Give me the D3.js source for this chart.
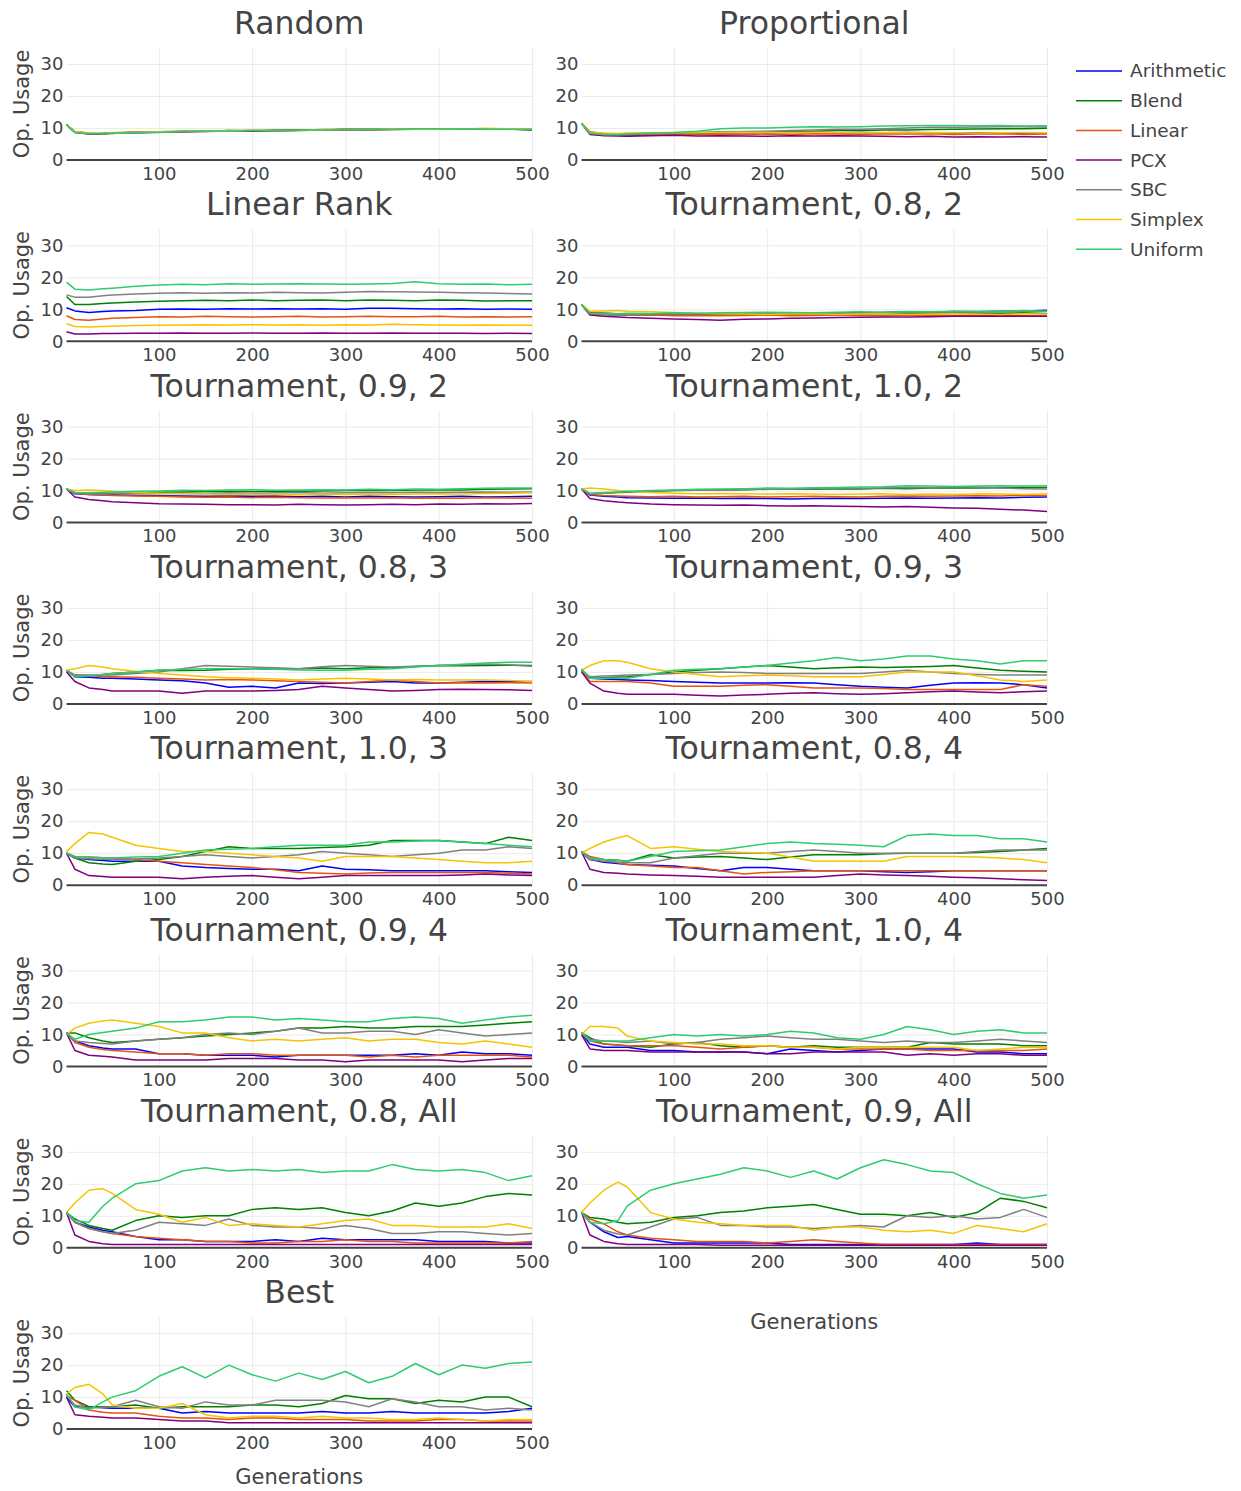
<!DOCTYPE html>
<html><head><meta charset="utf-8">
<script src="https://cdn.jsdelivr.net/npm/d3@7"></script>
<style>body{margin:0;background:#fff}</style>
</head><body>
<script>
const gens = [1,10,25,40,50,75,100,125,150,175,200,225,250,275,300,325,350,375,400,425,450,475,500];
const seriesNames = ["Arithmetic","Blend","Linear","PCX","SBC","Simplex","Uniform"];
const seriesColors = ["#0000ff","#008000","#e6550d","#800080","#808080","#f5c400","#2ecc71"];
const panelTitles = ["Random","Proportional","Linear Rank","Tournament, 0.8, 2","Tournament, 0.9, 2","Tournament, 1.0, 2",
  "Tournament, 0.8, 3","Tournament, 0.9, 3","Tournament, 1.0, 3","Tournament, 0.8, 4","Tournament, 0.9, 4","Tournament, 1.0, 4",
  "Tournament, 0.8, All","Tournament, 0.9, All","Best"];
const xTicks = [100,200,300,400,500];
const yTicks = [0,10,20,30];

// each panel: rows in seriesNames order
const random = [
 [11,8.8,8.3,8.2,8.4,8.6,8.7,8.9,9.0,9.1,9.0,9.2,9.3,9.3,9.6,9.5,9.6,9.7,9.8,9.7,9.8,9.7,9.4],
 [11,8.6,8.2,8.3,8.5,8.7,8.8,8.9,9.0,9.2,9.1,9.3,9.2,9.4,9.5,9.6,9.7,9.6,9.7,9.8,9.6,9.7,9.6],
 [11,8.9,8.4,8.1,8.3,8.8,8.6,9.0,8.9,9.1,9.2,9.1,9.3,9.5,9.6,9.4,9.6,9.8,9.6,9.7,9.8,9.6,9.5],
 [11,8.7,8.1,8.2,8.4,8.5,8.7,8.8,9.1,9.0,9.1,9.2,9.4,9.3,9.5,9.6,9.5,9.6,9.8,9.6,9.7,9.8,9.6],
 [11,8.8,8.2,8.4,8.3,8.6,8.8,8.9,8.9,9.2,9.2,9.1,9.3,9.4,9.5,9.5,9.6,9.7,9.7,9.8,9.7,9.7,9.6],
 [11,8.9,8.4,8.3,8.5,8.7,8.8,9.0,9.1,9.1,9.3,9.2,9.2,9.4,9.6,9.6,9.7,9.6,9.6,9.7,9.9,9.8,9.7],
 [11,8.6,8.3,8.2,8.4,8.5,8.7,8.9,9.0,9.0,9.2,9.2,9.3,9.4,9.5,9.6,9.5,9.7,9.7,9.8,9.7,9.6,9.5]];
const proportional = [
 [11.5,8.5,8.0,8.0,8.1,8.2,8.3,8.4,8.4,8.5,8.5,8.6,8.6,8.5,8.6,8.5,8.6,8.5,8.4,8.5,8.4,8.4,8.5],
 [11.5,8.2,7.8,7.8,7.6,8.0,8.2,8.4,8.6,8.7,8.8,8.8,9.0,9.2,9.2,9.4,9.4,9.5,9.6,9.7,9.8,9.8,9.9],
 [11.5,8.8,8.3,8.0,7.8,8.0,7.9,8.0,8.1,8.0,8.1,8.0,8.2,8.1,8.0,8.2,8.1,8.2,8.0,8.1,8.2,8.0,8.1],
 [11.5,8.0,7.6,7.5,7.4,7.6,7.7,7.5,7.6,7.5,7.4,7.6,7.5,7.6,7.5,7.4,7.3,7.4,7.2,7.3,7.2,7.3,7.2],
 [11.5,8.3,7.9,7.9,8.0,8.2,8.4,8.6,8.8,8.9,9.0,9.2,9.4,9.6,9.6,9.8,10.0,10.2,10.2,10.3,10.4,10.4,10.3],
 [11.5,8.6,8.4,8.3,8.4,8.5,8.6,8.5,8.6,8.7,8.6,8.6,8.7,8.6,8.5,8.6,8.5,8.6,8.5,8.4,8.5,8.6,8.5],
 [11.5,8.4,8.0,8.0,8.1,8.4,8.6,9.0,9.8,10.0,10.0,10.2,10.4,10.3,10.4,10.6,10.7,10.8,10.8,10.7,10.8,10.6,10.7]];
const linearRank = [
 [10.5,9.5,9.0,9.3,9.5,9.6,10.0,10.1,10.0,10.2,10.1,10.2,10.1,10.2,10.0,10.3,10.3,10.2,10.1,10.2,10.0,10.1,10.0],
 [14,11.5,11.5,11.8,12,12.3,12.5,12.7,12.8,12.7,12.9,12.7,12.8,12.9,12.7,12.9,12.8,12.7,12.9,12.8,12.6,12.7,12.7],
 [8,6.8,6.6,7.0,7.2,7.4,7.7,7.6,7.8,7.7,7.6,7.7,7.8,7.6,7.7,7.8,7.7,7.7,7.8,7.6,7.7,7.6,7.7],
 [3,2.3,2.3,2.4,2.4,2.5,2.5,2.6,2.5,2.5,2.6,2.5,2.5,2.6,2.5,2.5,2.6,2.5,2.5,2.5,2.4,2.5,2.4],
 [14.5,13.8,13.8,14.2,14.5,14.8,15.0,15.2,15.0,15.2,15.1,15.3,15.2,15.1,15.3,15.6,15.5,15.4,15.3,15.2,15.1,14.9,14.8],
 [5.5,4.6,4.5,4.6,4.7,4.9,5.0,5.1,5.2,5.1,5.2,5.1,5.2,5.0,5.2,5.1,5.3,5.2,5.1,5.0,5.1,5.0,5.0],
 [18.5,16.3,16.0,16.4,16.6,17.2,17.6,17.8,17.7,18.0,17.8,17.9,18.0,17.9,17.8,17.9,18.1,18.6,18.0,17.8,17.9,17.7,17.8]];
const tour082 = [
 [11.5,9.0,8.8,8.6,8.5,8.5,8.8,8.6,8.5,8.6,8.8,8.7,8.9,8.8,9.0,9.0,9.2,9.1,9.3,9.2,9.4,9.5,9.7],
 [11.5,8.5,8.3,8.2,8.3,8.2,8.4,8.3,8.2,8.3,8.4,8.5,8.4,8.6,8.5,8.6,8.7,8.6,8.8,8.7,8.8,8.9,8.6],
 [11.5,9.2,8.8,8.5,8.3,8.2,8.0,8.1,8.0,8.1,8.2,8.0,8.1,8.2,8.1,8.0,8.2,8.1,8.0,8.1,8.2,8.0,7.9],
 [11.5,8.2,7.8,7.6,7.4,7.2,7.0,6.8,6.6,6.9,7.0,7.2,7.3,7.4,7.5,7.6,7.6,7.7,7.8,7.8,7.9,7.8,7.8],
 [11.5,8.6,8.4,8.2,8.3,8.5,8.6,8.5,8.7,8.6,8.8,8.7,8.9,8.8,8.8,9.0,8.9,9.1,9.2,9.3,9.2,9.4,9.3],
 [11.5,9.4,9.5,9.6,9.4,9.2,9.0,8.8,8.6,8.5,8.4,8.5,8.6,8.4,8.5,8.6,8.4,8.5,8.6,8.5,8.4,8.6,8.5],
 [11.5,8.8,8.6,8.6,8.8,8.7,8.9,8.8,8.9,9.0,9.1,9.0,8.9,9.1,9.2,9.0,9.3,9.2,9.4,9.3,9.5,9.6,9.4]];
const tour092 = [
 [10.5,9.0,8.8,8.6,8.7,8.5,8.4,8.3,8.2,8.3,8.2,8.3,8.1,8.2,8.0,8.2,8.1,8.0,8.1,8.2,8.0,8.1,8.2],
 [10.5,9.3,9.0,9.1,9.2,9.4,9.5,9.6,9.7,9.8,9.7,9.9,9.8,9.9,10.0,10.1,10.0,10.2,10.3,10.2,10.4,10.5,10.6],
 [10.5,9.2,8.8,8.6,8.5,8.3,8.2,8.0,7.9,8.0,7.8,7.9,7.8,7.7,7.8,7.7,7.8,7.6,7.7,7.6,7.8,7.7,7.6],
 [10.5,8.0,7.2,6.8,6.5,6.2,5.9,5.8,5.7,5.6,5.6,5.5,5.7,5.6,5.5,5.6,5.7,5.6,5.8,5.7,5.9,5.8,6.0],
 [10.5,9.2,9.0,8.9,9.0,9.1,9.0,9.2,9.1,9.3,9.2,9.3,9.4,9.2,9.3,9.4,9.3,9.5,9.4,9.5,9.6,9.5,9.6],
 [10.5,10.0,10.2,10.0,9.8,9.4,9.2,9.0,8.9,8.8,8.9,8.8,8.7,8.9,8.8,8.9,8.8,8.9,9.0,8.9,9.1,9.2,9.3],
 [10.5,9.4,9.3,9.5,9.6,9.8,9.9,10.1,10.0,10.2,10.3,10.1,10.2,10.3,10.2,10.4,10.3,10.5,10.4,10.6,10.7,10.8,10.8]];
const tour102 = [
 [10.5,8.6,8.2,8.0,7.8,7.7,7.6,7.7,7.5,7.6,7.5,7.4,7.5,7.6,7.5,7.6,7.7,7.6,7.7,7.8,7.7,7.9,8.0],
 [10.5,9.0,9.2,9.4,9.5,9.8,10.0,10.1,10.2,10.3,10.4,10.5,10.4,10.6,10.5,10.7,10.6,10.8,10.9,10.8,10.9,11.0,11.0],
 [10.5,8.8,8.5,8.3,8.2,8.1,8.2,8.0,8.1,8.2,8.0,8.1,8.2,8.1,8.0,8.2,8.3,8.2,8.3,8.4,8.3,8.5,8.5],
 [10.5,7.5,6.8,6.4,6.2,5.8,5.6,5.5,5.4,5.5,5.3,5.2,5.3,5.1,5.0,4.9,5.0,4.8,4.6,4.5,4.2,3.9,3.5],
 [10.5,9.0,9.2,9.5,9.6,9.8,10.0,10.2,10.1,10.3,10.5,10.4,10.6,10.8,10.7,10.8,11.0,10.9,11.2,11.1,10.8,10.6,10.5],
 [10.5,10.8,10.5,10.0,9.8,9.4,9.2,9.0,9.1,9.0,8.9,9.0,8.9,8.8,8.9,9.0,8.8,8.9,8.8,9.0,8.9,8.8,9.0],
 [10.5,9.2,9.4,9.6,9.8,10.0,10.2,10.4,10.5,10.6,10.8,10.7,10.9,11.0,11.1,11.2,11.5,11.4,11.3,11.4,11.5,11.4,11.5]];
const tour083 = [
 [10.5,8.5,8.3,8.0,8.0,7.8,7.5,7.2,6.5,5.2,5.5,5.0,6.5,6.4,6.5,6.8,7.0,6.5,6.5,6.8,7.0,6.9,7.0],
 [10.5,8.5,8.8,9.2,9.5,10.0,10.5,10.4,10.5,10.8,11.0,10.8,11.0,11.2,11.0,11.3,11.4,11.7,12.0,11.9,12.0,12.1,12.0],
 [10.5,9.0,8.8,8.6,8.5,8.3,8.0,7.8,7.5,7.6,7.5,7.2,7.0,6.8,6.5,7.0,7.5,7.0,6.5,6.6,6.5,6.6,6.5],
 [10,7.0,5.0,4.5,4.0,4.0,4.0,3.3,4.0,4.0,4.0,4.2,4.5,5.5,5.0,4.5,4.0,4.2,4.5,4.6,4.5,4.4,4.2],
 [10.5,9.0,9.0,9.0,9.0,9.5,10.0,11.0,12.0,11.8,11.5,11.3,11.0,11.6,12.0,11.8,11.5,11.8,12.0,12.2,12.5,12.2,11.8],
 [10.5,11.0,12.0,11.5,11.0,10.2,9.5,9.0,8.5,8.2,8.0,7.8,7.5,7.8,8.0,7.8,7.5,7.6,7.5,7.5,7.5,7.3,7.0],
 [10.5,8.5,8.8,9.2,9.5,10.0,10.5,10.8,11.0,11.0,11.0,10.8,10.6,10.5,10.5,10.8,11.0,11.5,12.0,12.4,12.8,13.0,13.0]];
const tour093 = [
 [10.5,8.0,7.8,7.6,7.5,7.3,7.0,6.8,6.5,6.5,6.5,6.6,6.5,6.0,5.5,5.2,5.0,5.8,6.5,6.6,6.5,6.0,5.0],
 [10.5,8.0,8.2,8.4,8.5,9.2,10.0,10.5,11.0,11.5,12.0,11.5,11.0,11.3,11.5,11.4,11.5,11.7,12.0,11.2,10.5,10.2,10.0],
 [10.5,7.0,7.0,7.0,7.0,6.5,5.5,5.5,5.5,5.8,6.0,5.5,5.0,5.0,5.0,4.8,4.5,4.5,4.5,4.5,4.5,6.0,5.5],
 [10,6.5,4.0,3.3,3.0,3.0,3.0,2.7,2.5,2.8,3.0,3.3,3.5,3.2,3.0,3.2,3.5,3.8,4.0,3.7,3.5,3.8,4.0],
 [10.5,8.5,8.7,8.9,9.0,9.2,9.5,9.8,10.0,9.8,9.5,9.5,9.5,9.5,9.5,10.0,10.5,10.0,9.5,9.2,9.0,9.0,9.0],
 [10.5,12.0,13.5,13.5,13.0,11.0,10.0,9.2,8.5,8.8,9.0,8.8,8.5,8.5,8.5,9.2,10.0,10.0,10.0,8.8,7.5,7.0,7.5],
 [11,8.0,8.0,8.0,8.0,9.2,10.5,10.8,11.0,11.5,12.0,12.8,13.5,14.5,13.5,14.0,15.0,15.0,14.0,13.5,12.5,13.5,13.5]];
const tour103 = [
 [10,8.5,8.0,7.7,7.5,7.5,7.5,6.0,5.5,5.2,5.0,5.0,4.5,6.0,5.0,4.8,4.5,4.5,4.5,4.5,4.5,4.2,4.0],
 [10,8.5,7.0,6.6,6.5,7.5,8.0,9.0,10.5,12.0,11.5,11.5,11.5,11.8,12.0,12.5,14.0,14.0,14.0,13.5,13.0,15.0,14.0],
 [10,9.0,8.8,8.6,8.5,8.0,7.5,7.0,6.5,6.0,5.5,4.8,4.0,3.7,3.5,3.8,4.0,4.0,4.0,4.0,4.0,3.7,3.5],
 [10,5.0,3.0,2.7,2.5,2.5,2.5,2.0,2.5,2.8,3.0,2.5,2.0,2.5,3.0,3.0,3.0,3.0,3.0,3.2,3.5,3.2,3.0],
 [10,8.5,8.3,8.1,8.0,8.2,8.5,9.0,9.5,9.0,8.5,9.0,9.5,10.5,10.0,9.5,9.0,9.5,10.0,11.0,11.0,12.0,11.5],
 [10.5,13.0,16.5,16.0,15.0,12.5,11.5,10.5,10.5,10.0,9.5,9.0,8.5,7.5,9.0,9.0,9.0,8.5,8.0,7.5,7.0,7.0,7.5],
 [10,9.0,8.8,8.6,8.5,8.8,9.0,10.0,11.0,11.2,11.5,12.0,12.5,12.5,12.5,13.5,13.5,13.8,14.0,13.5,13.0,12.5,12.0]];
const tour084 = [
 [10.5,8.0,7.2,6.8,6.5,6.2,6.0,5.2,4.5,5.5,5.5,5.0,4.5,4.5,4.5,4.2,4.0,4.2,4.5,4.5,4.5,4.5,4.5],
 [10.5,8.5,8.0,7.8,7.5,9.5,8.5,8.8,9.0,8.5,8.0,8.8,9.5,9.5,9.5,9.8,10.0,10.0,10.0,10.2,10.5,11.0,11.5],
 [10.5,9.0,8.0,7.0,6.5,6.0,5.5,5.5,4.5,3.5,4.0,4.2,4.5,4.5,4.5,4.5,4.5,4.5,4.5,4.5,4.5,4.5,4.5],
 [10.5,5.0,4.0,3.7,3.5,3.2,3.0,2.8,2.5,2.5,2.5,2.5,2.5,3.0,3.5,3.2,3.0,2.8,2.5,2.3,2.0,1.7,1.5],
 [10.5,8.0,7.5,7.2,7.0,7.0,8.5,9.2,10.0,10.0,10.0,10.5,11.0,10.5,10.0,10.0,10.0,10.0,10.0,10.5,11.0,11.0,11.0],
 [10,11.5,13.5,14.8,15.5,11.5,12.0,11.2,10.5,10.2,10.0,8.8,7.5,7.5,7.5,7.5,9.0,9.0,9.0,8.8,8.5,8.0,7.0],
 [10.5,8.5,8.0,7.7,7.5,9.0,10.5,10.8,11.0,12.0,13.0,13.5,13.0,12.8,12.5,12.0,15.5,16.0,15.5,15.5,14.5,14.5,13.5]];
const tour094 = [
 [10.5,8.0,6.5,5.8,5.5,5.5,4.0,4.0,3.5,3.5,3.5,3.0,3.5,3.5,3.5,3.5,3.5,4.0,3.5,4.5,4.0,4.0,3.5],
 [10.5,10.5,9.0,8.0,7.5,8.0,8.5,9.0,9.5,10.0,10.5,11.0,12.0,12.0,12.5,12.0,12.0,12.5,12.5,12.5,13.0,13.5,14.0],
 [10.5,7.5,6.0,5.3,5.0,4.5,4.0,4.0,3.5,4.0,4.0,3.5,3.5,3.5,3.5,3.0,3.5,3.0,3.5,3.5,3.5,3.5,3.0],
 [10.5,5.0,3.5,3.2,3.0,2.0,2.0,2.0,2.0,2.5,2.5,2.5,2.0,2.0,1.5,2.0,2.0,2.0,2.0,1.5,2.0,2.5,2.5],
 [10.5,8.0,7.5,7.2,7.0,8.0,8.5,9.0,10.0,10.5,10.0,11.0,12.0,10.5,10.5,11.0,11.0,10.0,11.5,10.5,9.5,10.0,10.5],
 [10,12.0,13.5,14.2,14.5,13.5,12.5,10.5,10.5,9.0,8.0,8.5,8.0,8.5,9.0,8.0,8.5,8.5,7.5,7.0,8.0,7.0,6.0],
 [10.5,8.5,10.0,10.6,11.0,12.0,14.0,14.0,14.5,15.5,15.5,14.5,15.0,14.5,14.0,14.0,15.0,15.5,15.0,13.5,14.5,15.5,16.0]];
const tour104 = [
 [10.5,7.0,6.0,6.0,6.0,5.0,5.0,4.5,4.5,4.5,4.0,5.5,5.0,4.5,5.0,5.5,5.5,5.5,5.5,4.5,4.5,4.0,4.0],
 [10.5,9.0,7.0,6.7,6.5,6.0,7.0,7.5,6.5,6.0,6.5,6.0,6.5,6.0,6.0,6.0,6.0,7.5,7.0,7.0,7.0,6.5,6.5],
 [10.5,8.0,7.0,6.7,6.5,6.5,6.5,6.0,5.5,6.0,6.5,6.0,6.0,5.5,5.5,5.5,5.5,5.0,5.0,5.0,5.0,5.0,5.5],
 [10,5.5,5.0,5.0,5.0,4.5,4.5,4.5,4.5,4.5,4.0,4.0,4.5,4.5,4.5,4.5,3.5,4.0,3.5,4.0,4.0,3.5,3.5],
 [10.5,8.5,8.0,7.7,7.5,8.0,7.0,7.5,8.5,9.0,9.5,9.0,8.5,8.5,8.0,7.5,8.0,7.5,7.5,8.0,8.5,8.0,7.5],
 [10,12.5,12.5,12.0,9.5,8.0,7.5,7.0,7.0,6.5,6.5,6.0,6.0,5.5,6.0,6.0,6.0,6.0,6.0,5.0,5.5,6.0,6.0],
 [10.5,8.0,8.0,8.0,8.0,9.0,10.0,9.5,10.0,9.5,10.0,11.0,10.5,9.0,8.5,10.0,12.5,11.5,10.0,11.0,11.5,10.5,10.5]];
const tour08All = [
 [11,8.0,6.5,5.5,5.0,3.5,2.5,2.5,2.0,2.0,2.0,2.5,2.0,3.0,2.5,2.5,2.5,2.5,2.0,2.0,2.0,1.5,1.5],
 [11,9.0,7.0,6.0,5.5,8.5,10.0,9.5,10.0,10.0,12.0,12.5,12.0,12.5,11.0,10.0,11.5,14.0,13.0,14.0,16.0,17.0,16.5],
 [11,8.0,6.0,5.0,4.5,3.5,3.0,2.5,2.0,2.0,1.5,1.5,2.0,2.0,2.5,2.0,2.0,1.5,1.5,1.5,1.5,1.5,2.0],
 [11,4.0,2.0,1.3,1.0,1.0,1.0,1.0,1.0,1.0,1.0,1.0,1.0,1.0,1.0,1.0,1.0,1.0,1.0,1.0,1.0,1.0,1.0],
 [11,8.0,6.0,5.0,4.5,5.5,8.0,7.5,7.0,9.0,7.0,6.5,6.5,6.0,7.0,6.0,4.5,4.5,5.0,5.0,4.5,4.0,4.5],
 [11,14.0,18.0,18.5,17.0,12.0,10.5,8.0,9.5,7.0,7.5,7.0,6.5,7.5,8.5,9.0,7.0,7.0,6.5,6.5,6.5,7.5,6.0],
 [11,8.5,8.0,13.0,15.5,20.0,21.0,24.0,25.0,24.0,24.5,24.0,24.5,23.5,24.0,24.0,26.0,24.5,24.0,24.5,23.5,21.0,22.5]];
const tour09All = [
 [11,8.0,5.0,3.2,3.5,2.5,1.5,1.5,1.5,1.5,1.5,1.0,1.0,1.0,1.0,1.0,1.0,1.0,1.0,1.5,1.0,1.0,1.0],
 [11,9.5,9.0,8.0,7.5,8.0,9.5,10.0,11.0,11.5,12.5,13.0,13.5,12.0,10.5,10.5,10.0,11.0,9.5,11.0,15.5,14.5,12.5],
 [11,9.0,7.5,5.0,4.0,3.0,2.5,2.0,2.0,2.0,1.5,2.0,2.5,2.0,1.5,1.0,1.0,1.0,1.0,1.0,1.0,1.0,1.0],
 [11,4.0,2.0,1.3,1.0,1.0,1.0,1.0,0.8,0.8,0.8,0.8,0.8,0.8,0.8,0.8,0.8,0.8,0.8,0.8,0.8,0.8,0.8],
 [11,8.0,5.5,4.3,4.0,6.5,9.0,9.5,7.0,7.0,6.5,6.5,6.0,6.5,7.0,6.5,10.0,9.5,10.0,9.0,9.5,12.0,9.5],
 [11,14.0,18.0,20.5,19.0,11.0,9.0,8.0,7.5,7.0,7.0,7.0,5.5,6.5,6.5,5.5,5.0,5.5,4.5,7.0,6.0,5.0,7.5],
 [11,8.0,7.5,8.5,13.0,18.0,20.0,21.5,23.0,25.0,24.0,22.0,24.0,21.5,25.0,27.5,26.0,24.0,23.5,20.0,17.0,15.5,16.5]];
const best = [
 [10,7.0,7.0,6.7,6.5,6.5,6.5,5.0,5.5,5.0,5.0,5.0,5.0,5.5,5.0,5.0,5.5,5.0,5.0,5.0,5.0,5.5,6.5],
 [12,9.0,7.0,7.0,7.0,7.5,6.5,7.0,7.0,7.0,7.5,7.5,7.0,8.0,10.5,9.5,9.5,8.0,9.0,8.5,10.0,10.0,7.0],
 [10.5,9.0,6.0,5.3,5.0,5.0,4.0,3.5,3.5,3.0,3.5,3.5,3.0,3.0,3.0,2.5,2.5,2.5,3.0,3.0,2.5,2.5,2.5],
 [10,4.5,4.0,3.7,3.5,3.5,3.0,2.5,2.5,2.0,2.0,2.0,2.0,2.0,2.0,2.0,2.0,2.0,2.0,2.0,2.0,2.0,2.0],
 [10.5,7.5,6.5,6.8,7.0,9.0,7.0,6.5,8.5,7.5,7.5,9.0,9.0,9.0,8.5,7.0,9.5,8.5,7.0,7.0,6.0,6.5,6.0],
 [11,13.0,14.0,11.0,7.5,6.5,6.5,8.0,4.5,3.5,4.0,4.0,3.5,4.0,3.5,3.5,3.0,3.0,3.5,3.0,2.5,3.0,3.0],
 [11,7.0,6.0,8.5,10.0,12.0,16.5,19.5,16.0,20.0,17.0,15.0,17.5,15.5,18.0,14.5,16.5,20.5,17.0,20.0,19.0,20.5,21.0]];

const panelData = [random, proportional, linearRank, tour082, tour092, tour102, tour083, tour093,
  tour103, tour084, tour094, tour104, tour08All, tour09All, best];

const W = 1241, H = 1491;
const FONT = "'DejaVu Sans', Verdana, sans-serif";
const TXT = "#444";
const svg = d3.select("body").append("svg").attr("width", W).attr("height", H)
  .style("font-family", FONT);
svg.append("rect").attr("width", W).attr("height", H).attr("fill", "#fff");

const colRange = [[66.5, 532], [581.5, 1047]];
const rowPitch = 181.3, firstBottom = 160, plotH = 112;

panelData.forEach((data, i) => {
  const row = Math.floor(i / 2), col = i % 2;
  const yB = firstBottom + row * rowPitch;
  const x = d3.scaleLinear().domain([1, 500]).range(colRange[col]);
  const y = d3.scaleLinear().domain([0, 35]).range([yB, yB - plotH]);
  const g = svg.append("g");
  const [x0, x1] = colRange[col];

  const ax = g.append("g").attr("transform", `translate(0,${yB})`)
    .call(d3.axisBottom(x).tickValues(xTicks).tickSizeInner(-plotH).tickSizeOuter(0).tickPadding(7));
  ax.select(".domain").remove();
  ax.selectAll(".tick line").attr("stroke", "#ebebeb").attr("stroke-width", 1);
  ax.selectAll(".tick text").attr("fill", TXT).style("font-size", "18px").style("font-family", FONT);

  const ay = g.append("g").attr("transform", `translate(${x0},0)`)
    .call(d3.axisLeft(y).tickValues(yTicks).tickSizeInner(-(x1 - x0)).tickSizeOuter(0).tickPadding(3));
  ay.select(".domain").remove();
  ay.selectAll(".tick line").attr("stroke", d => d === 0 ? "none" : "#ebebeb").attr("stroke-width", 1);
  ay.selectAll(".tick text").attr("fill", TXT).style("font-size", "18px").style("font-family", FONT);

  g.append("line").attr("x1", x0).attr("x2", x1).attr("y1", y(0)).attr("y2", y(0))
    .attr("stroke", "#444").attr("stroke-width", 2);

  const line = d3.line().x((d, j) => x(gens[j])).y(d => y(d));
  data.forEach((vals, s) => {
    g.append("path").attr("d", line(vals)).attr("fill", "none")
      .attr("stroke", seriesColors[s]).attr("stroke-width", 1.5).attr("stroke-linejoin", "round");
  });

  g.append("text").attr("x", (x0 + x1) / 2).attr("y", yB - 126).attr("text-anchor", "middle")
    .attr("fill", TXT).style("font-size", "31.5px").text(panelTitles[i]);

  if (col === 0) {
    g.append("text").attr("transform", `translate(29,${yB - plotH / 2}) rotate(-90)`)
      .attr("text-anchor", "middle").attr("fill", TXT).style("font-size", "21px").text("Op. Usage");
  }
});

svg.append("text").attr("x", (colRange[0][0] + colRange[0][1]) / 2).attr("y", 1484)
  .attr("text-anchor", "middle").attr("fill", TXT).style("font-size", "21px").text("Generations");
svg.append("text").attr("x", (colRange[1][0] + colRange[1][1]) / 2).attr("y", 1329)
  .attr("text-anchor", "middle").attr("fill", TXT).style("font-size", "21px").text("Generations");

const leg = svg.append("g");
seriesNames.forEach((n, k) => {
  const ly = 71 + k * 29.7;
  leg.append("line").attr("x1", 1076).attr("x2", 1122).attr("y1", ly).attr("y2", ly)
    .attr("stroke", seriesColors[k]).attr("stroke-width", 1.5);
  leg.append("text").attr("x", 1130).attr("y", ly).attr("dy", "0.35em").attr("fill", TXT)
    .style("font-size", "18.5px").text(n);
});
</script>
</body></html>
